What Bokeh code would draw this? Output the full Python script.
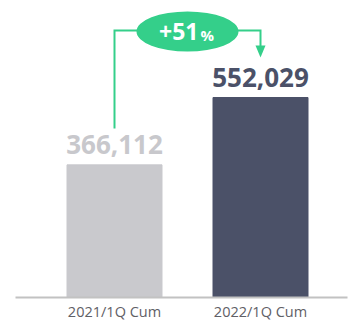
from bokeh.plotting import figure
from bokeh.models import Range1d
from bokeh.core.properties import value
from bokeh.embed import file_html
from bokeh.resources import INLINE

# ---- data ----
categories = ["2021/1Q Cum", "2022/1Q Cum"]
values = [366112, 552029]
value_labels = ["366,112", "552,029"]
growth_label = "+51"
growth_unit = "%"

bar_colors = ["#c9c9cd", "#4b5168"]
label_colors = ["#c8c8cc", "#4b5168"]
green = "#34cf8a"

# ---- geometry (screen pixels) ----
W, H = 349, 320
OX, OY = 0, 0
xs = list(range(len(categories)))
PX_X = 146.0
x0_scr = 114.0
x_start = -(x0_scr - OX) / PX_X
x_end = x_start + W / PX_X
K = max(values) / 200.0
base_scr = 297.0
y_start = -(H - (base_scr - OY)) * K
y_end = (base_scr - OY) * K


def dx(sx):
    return x_start + (sx - OX) / PX_X


def dy(sy):
    return y_start + (H - (sy - OY)) * K


p = figure(width=W, height=H, x_range=Range1d(x_start, x_end),
           y_range=Range1d(y_start, y_end), output_backend="svg",
           toolbar_location=None, min_border=0, outline_line_color=None)
p.axis.visible = False
p.grid.visible = False
p.background_fill_color = "white"
p.border_fill_color = "white"

p.vbar(x=xs, top=values, bottom=0, width=95 / PX_X, color=bar_colors)
p.segment(x0=[dx(15)], y0=[0], x1=[dx(347)], y1=[0], line_color="#c2c2c2", line_width=2)

p.text(x=xs, y=values, text=value_labels, text_color=label_colors,
       text_font=value("Open Sans"), text_font_style="bold", text_font_size="26px",
       text_align="center", text_baseline="middle", y_offset=-20)

p.text(x=xs, y=[0, 0], text=categories, text_color="#5f6066",
       text_font=value("Open Sans"), text_font_size="14.5px",
       text_align="center", text_baseline="middle", y_offset=14)

# growth bracket
bracket_y = dy(30)
p.line(x=[xs[0], xs[0], xs[1], xs[1]], y=[dy(128), bracket_y, bracket_y, dy(46)],
       line_color=green, line_width=2, line_join="miter")
p.patch(x=[xs[1] - 5 / PX_X, xs[1] + 5 / PX_X, xs[1]], y=[dy(45), dy(45), dy(57)],
        fill_color=green, line_color=None)
mid = (xs[0] + xs[1]) / 2
p.ellipse(x=[mid], y=[dy(31)], width=102, height=40, width_units="screen",
          height_units="screen", fill_color=green, line_color=None)
p.text(x=[mid], y=[dy(30.5)], text=[growth_label], text_color="white",
       text_font=value("Open Sans"), text_font_style="bold", text_font_size="23px",
       text_align="right", text_baseline="middle", x_offset=11)
p.text(x=[mid], y=[dy(34)], text=[growth_unit], text_color="white",
       text_font=value("Open Sans"), text_font_style="bold", text_font_size="15px",
       text_align="left", text_baseline="middle", x_offset=13)

open("out.html", "w").write(file_html(p, INLINE))
